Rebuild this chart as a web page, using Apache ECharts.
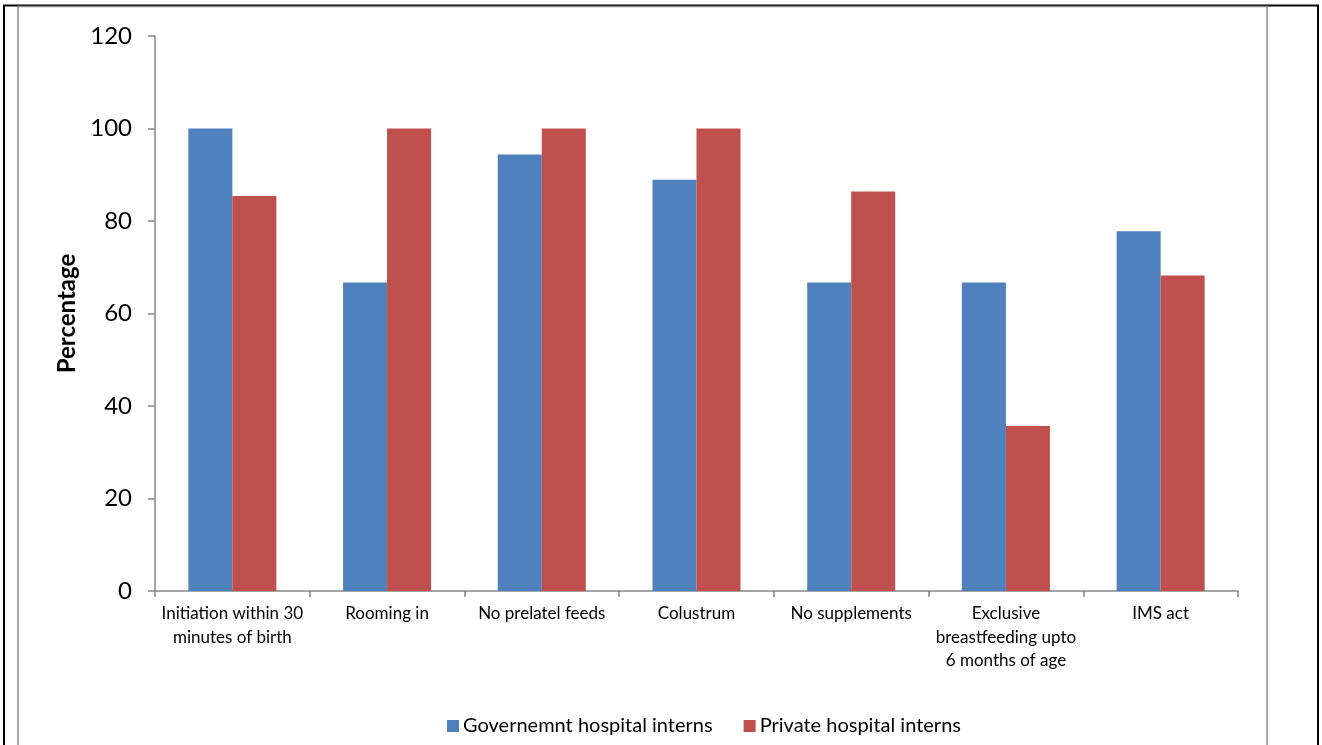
<!DOCTYPE html>
<html>
<head>
<meta charset="utf-8">
<script src="https://cdn.jsdelivr.net/npm/echarts@6/dist/echarts.min.js"></script>
<style>
html, body { margin: 0; padding: 0; background: #fff; }
#chart { width: 1322px; height: 745px; }
</style>
</head>
<body>
<div id="chart"></div>
<script>
var categories = ['Initiation within 30\nminutes of birth', 'Rooming in', 'No prelatel feeds', 'Colustrum',
    'No supplements', 'Exclusive\nbreastfeeding upto\n6 months of age', 'IMS act'];
var govValues = [100, 66.7, 94.4, 88.9, 66.7, 66.7, 77.8];
var privValues = [85.4, 100, 100, 100, 86.4, 35.7, 68.2];
var yTicks = [0, 20, 40, 60, 80, 100, 120];

var chart = echarts.init(document.getElementById('chart'));
var font = 'Lato, "Open Sans", sans-serif';
option = {
    animation: false,
    textStyle: {fontFamily: font},
    graphic: [
        // outer black frame
        {type: 'rect', shape: {x: 4, y: 5.5, width: 1314, height: 760}, style: {fill: 'none', stroke: '#000', lineWidth: 2}, silent: true},
        // inner gray frame
        {type: 'rect', shape: {x: 18, y: 6.5, width: 1249, height: 760}, style: {fill: 'none', stroke: '#8c8c8c', lineWidth: 1.5}, silent: true}
    ],
    grid: {left: 155, right: 84, top: 36, bottom: 154, containLabel: false},
    legend: {
        bottom: 4,
        left: 442,
        itemWidth: 12,
        itemHeight: 12,
        itemGap: 31,
        icon: 'rect',
        textStyle: {fontSize: 20, color: '#000', fontFamily: font, padding: [0, 0, 0, -1]}
    },
    xAxis: {
        type: 'category',
        data: categories,
        axisLine: {lineStyle: {color: '#868686', width: 1.5}},
        axisTick: {show: true, alignWithLabel: false, length: 6, lineStyle: {color: '#868686', width: 1.5}},
        axisLabel: {fontSize: 17, color: '#000', lineHeight: 23.5, margin: 11, interval: 0, fontFamily: font}
    },
    yAxis: {
        type: 'value',
        min: 0,
        max: 120,
        interval: 20,
        name: 'Percentage',
        nameLocation: 'middle',
        nameGap: 73,
        nameTextStyle: {fontSize: 24, fontWeight: 'bold', color: '#000', fontFamily: font},
        axisLine: {show: true, lineStyle: {color: '#868686', width: 1.5}},
        axisTick: {show: true, length: 7, lineStyle: {color: '#868686', width: 1.5}},
        splitLine: {show: false},
        axisLabel: {fontSize: 24, color: '#000', margin: 23, fontFamily: font,
            formatter: function (v) { return yTicks.indexOf(v) >= 0 ? String(v) : ''; }}
    },
    series: [
        {
            name: 'Governemnt hospital interns',
            type: 'bar',
            data: govValues,
            barWidth: 44,
            barGap: '0%',
            itemStyle: {color: '#4F81BD'}
        },
        {
            name: 'Private hospital interns',
            type: 'bar',
            data: privValues,
            barWidth: 44,
            barGap: '0%',
            itemStyle: {color: '#C0504D'}
        }
    ]
};
chart.setOption(option, true);
</script>
</body>
</html>
